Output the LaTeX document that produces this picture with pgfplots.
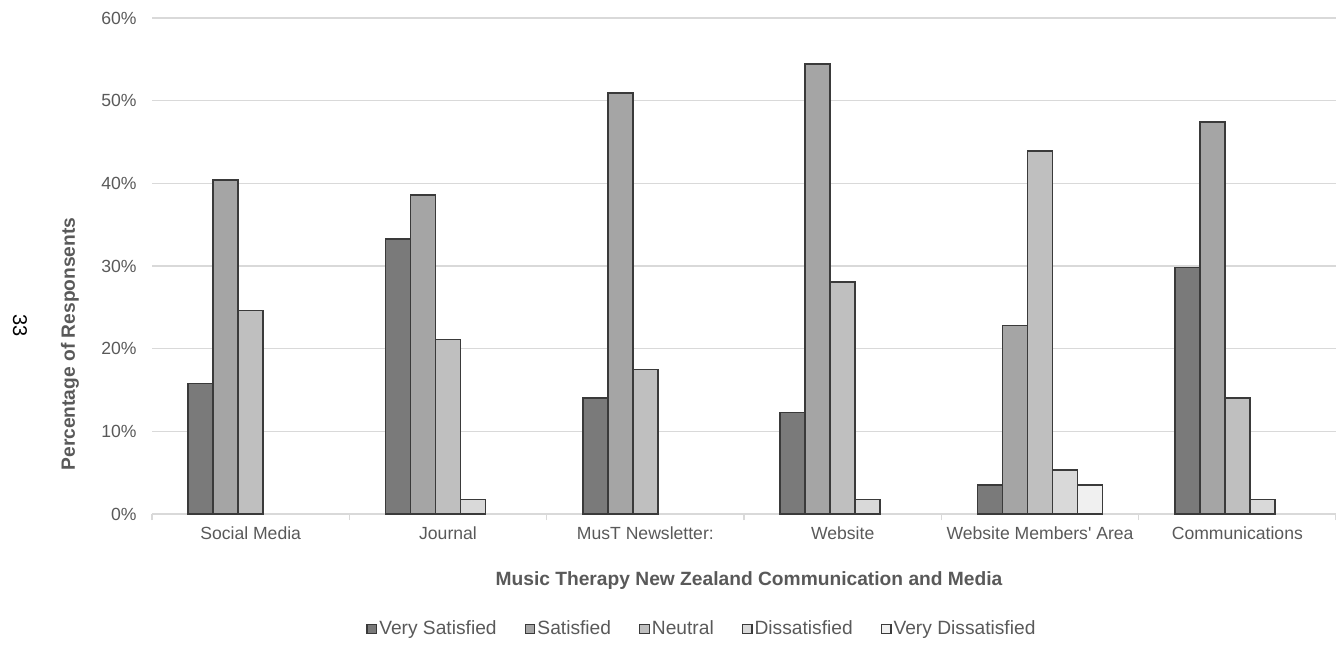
\documentclass[border=0pt]{standalone}
\usepackage{pgfplots}
\pgfplotsset{compat=1.18}
\usepackage{fontspec}
\setmainfont{Liberation Sans}
\definecolor{cvs}{HTML}{7A7A7A}
\definecolor{cs}{HTML}{A5A5A5}
\definecolor{cn}{HTML}{BFBFBF}
\definecolor{cd}{HTML}{D9D9D9}
\definecolor{cvd}{HTML}{F0F0F0}
\definecolor{edge}{HTML}{3A3A3A}
\definecolor{txt}{HTML}{595959}
\definecolor{gridc}{HTML}{D9D9D9}
\begin{document}
\fontsize{9}{11}\selectfont
\begin{tikzpicture}
\useasboundingbox (0,0) rectangle (668pt,327pt);
\begin{axis}[
  at={(76pt,70pt)}, anchor=south west, scale only axis,
  width=592pt, height=248pt,
  ybar=0pt, bar width=12.5pt,
  xmin=-0.5, xmax=5.5, ymin=0, ymax=60,
  xtick={0,1,2,3,4,5},
  xticklabels={Social Media,Journal,MusT Newsletter:,Website,Website Members\textquotesingle{} Area,Communications},
  ytick={0,10,20,30,40,50,60},
  yticklabels={0\%,10\%,20\%,30\%,40\%,50\%,60\%},
  major tick length=0pt,
  tick label style={text=txt, font=\fontsize{8.8}{11}\selectfont},
  yticklabel style={xshift=-4.5pt},
  xticklabel style={yshift=-3pt},
  ymajorgrids, grid style={gridc, line width=0.6pt},
  axis x line*=bottom, axis y line*=left,
  x axis line style={gridc, line width=0.6pt, -},
  y axis line style={draw=none},
  extra x ticks={-0.5,0.5,1.5,2.5,3.5,4.5,5.5},
  extra x tick labels={},
  extra x tick style={major tick length=3pt, tick align=outside, tick style={gridc, line width=0.6pt}, grid=none},
  legend columns=-1,
  legend style={at={(0.4645,-0.232)}, anchor=center, draw=none, fill=none,
    font=\fontsize{9.6}{11}\selectfont, text=txt,
    /tikz/every even column/.append style={column sep=13pt},
    nodes={inner sep=1pt}},
  legend image code/.code={\draw[#1, line width=0.6pt] (0pt,-2.4pt) rectangle (4.8pt,2.4pt);},
]
\addplot[fill=cvs, draw=edge, line width=0.8pt] coordinates {(0,15.8) (1,33.3) (2,14.0) (3,12.3) (4,3.5) (5,29.8)};
\addplot[fill=cs, draw=edge, line width=0.8pt] coordinates {(0,40.4) (1,38.6) (2,50.9) (3,54.4) (4,22.8) (5,47.4)};
\addplot[fill=cn, draw=edge, line width=0.8pt] coordinates {(0,24.6) (1,21.1) (2,17.5) (3,28.1) (4,43.9) (5,14.0)};
\addplot[fill=cd, draw=edge, line width=0.8pt] coordinates {(1,1.75) (3,1.75) (4,5.3) (5,1.75)};
\addplot[fill=cvd, draw=edge, line width=0.8pt] coordinates {(4,3.5)};
\legend{Very Satisfied,Satisfied,Neutral,Dissatisfied,Very Dissatisfied}
\end{axis}
\node[rotate=90, text=txt, font=\fontsize{9.6}{11}\selectfont\bfseries] at (35pt,155pt) {Percentage of Responsents};
\node[text=txt, font=\fontsize{9.6}{11}\selectfont\bfseries] at (374.5pt,36.5pt) {Music Therapy New Zealand Communication and Media};
\node[rotate=-90, font=\fontsize{10}{11}\selectfont] at (10pt,164pt) {33};
\end{tikzpicture}
\end{document}
